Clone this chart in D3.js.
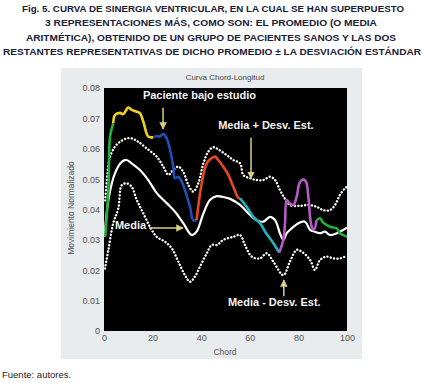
<html>
  <head>
    <meta charset='utf-8'>
    <script src='https://d3js.org/d3.v7.min.js'></script>
    <style>
      body { margin: 0; background: #fff; }
      text { font-family: 'Liberation Sans', Arial, sans-serif; }
    </style>
  </head>
  <body>
    <div id='fig'></div>
    <script>
        // ---- data ----
        const titleLines = [
          'Fig. 5. CURVA DE SINERGIA VENTRICULAR, EN LA CUAL SE HAN SUPERPUESTO',
          '3 REPRESENTACIONES MÁS, COMO SON: EL PROMEDIO (O MEDIA',
          'ARITMÉTICA), OBTENIDO DE UN GRUPO DE PACIENTES SANOS Y LAS DOS',
          'RESTANTES REPRESENTATIVAS DE DICHO  PROMEDIO ± LA DESVIACIÓN ESTÁNDAR'
        ];
        const xTicks = [0, 20, 40, 60, 80, 100];
        const yTicks = [0, 0.01, 0.02, 0.03, 0.04, 0.05, 0.06, 0.07, 0.08];

        // patient under study: [chord, value]
        const patient = [
          [0.5, 0.031], [1.8, 0.0464], [2.5, 0.064], [3.8, 0.0684], [4.5, 0.0711],
          [6.6, 0.0718], [7.9, 0.0714], [10, 0.0736], [11.4, 0.0728], [13.5, 0.0722],
          [14.8, 0.0717], [16.2, 0.0689], [18.2, 0.064], [20.3, 0.0638], [21.7, 0.0642],
          [23, 0.064], [24.4, 0.0649], [25.8, 0.0634], [27.2, 0.0596], [28.5, 0.0541],
          [29.2, 0.0503], [30.6, 0.0508], [32, 0.0492], [33.3, 0.0464], [35.4, 0.0409],
          [36.7, 0.0365], [38.1, 0.0365], [40.2, 0.0486], [42.3, 0.0552], [44.3, 0.0569],
          [45.7, 0.0574], [47, 0.0563], [49.1, 0.0541], [51.2, 0.0514], [53.2, 0.0475],
          [55.3, 0.0438], [56, 0.0437], [58.7, 0.0409], [61.4, 0.0376], [64.2, 0.0355],
          [66.3, 0.0327], [69.7, 0.0289], [72.1, 0.0258], [73.8, 0.030], [74.5, 0.0355],
          [75.2, 0.0431], [76.5, 0.042], [77.9, 0.0415], [79.3, 0.0442], [80.4, 0.0486],
          [81.8, 0.0499], [83.1, 0.0492], [84.1, 0.0442], [84.8, 0.0376], [85.5, 0.0343],
          [86.4, 0.0333], [87.5, 0.0365], [88.9, 0.0371], [90.2, 0.0357], [93, 0.0343],
          [95.8, 0.0338], [97.1, 0.0322], [99.2, 0.0313], [100, 0.031]
        ];
        // coloured pieces of the patient curve (chord ranges)
        const patientSegments = [
          { color: '#1fae3c', from: 0, to: 3.8 },
          { color: '#f2d21a', from: 3.8, to: 20.3 },
          { color: '#1f4fb4', from: 20.3, to: 38.1 },
          { color: '#e8461e', from: 38.1, to: 56 },
          { color: '#1fb4bc', from: 56, to: 72.1 },
          { color: '#b45ac3', from: 72.1, to: 87.5 },
          { color: '#1fae3c', from: 87.5, to: 100 }
        ];

        const mean = [
          [0.2, 0.031], [2, 0.044], [4.5, 0.0519], [7.3, 0.0557], [9.3, 0.0563],
          [11.4, 0.0552], [14.8, 0.053], [18.2, 0.0497], [21.7, 0.0454], [25.8, 0.0421],
          [29.2, 0.0393], [32.6, 0.0355], [36.1, 0.0316], [38.1, 0.0327], [40.9, 0.0387],
          [43.6, 0.0431], [46.4, 0.0444], [49.1, 0.0441], [51.9, 0.0435], [56, 0.0415],
          [60.1, 0.0382], [62.8, 0.0365], [65.6, 0.036], [68.3, 0.0376], [70.4, 0.0365],
          [72.4, 0.0322], [73.8, 0.030], [75.2, 0.0322], [77.2, 0.0338], [80, 0.0355],
          [82.7, 0.036], [84.8, 0.0333], [86.8, 0.0327], [88.9, 0.0322], [90.9, 0.0327],
          [93, 0.0316], [95.8, 0.0322], [98.5, 0.0333], [100, 0.034]
        ];

        const meanPlusSd = [
          [0.5, 0.043], [1.8, 0.0546], [2.5, 0.0574], [4.5, 0.0607], [6.6, 0.0623],
          [9.3, 0.0634], [11.4, 0.0634], [14.1, 0.0623], [17.6, 0.0601], [21.7, 0.0574],
          [24.4, 0.0541], [26.5, 0.0514], [28.5, 0.053], [30.6, 0.0541], [32.6, 0.0524],
          [34.7, 0.0481], [36.7, 0.0459], [38.8, 0.0486], [40.9, 0.0552], [42.9, 0.059],
          [45, 0.0605], [47, 0.0598], [50.5, 0.0579], [53.2, 0.0563], [56, 0.0552],
          [57.3, 0.0514], [60.1, 0.0503], [62.8, 0.0497], [65.6, 0.0497], [68.3, 0.0508],
          [70.4, 0.0497], [72.4, 0.0464], [74.5, 0.0435], [76.5, 0.0415], [80.7, 0.0412],
          [84.1, 0.0415], [87.5, 0.0409], [90.2, 0.0398], [93, 0.0398], [95.1, 0.0415],
          [97.1, 0.0448], [99.2, 0.047], [100, 0.0475]
        ];

        const meanMinusSd = [
          [0.4, 0.0206], [1.8, 0.0267], [3.8, 0.0355], [5.9, 0.0404], [7.3, 0.048],
          [9.3, 0.0486], [11.4, 0.0475], [13.5, 0.0431], [16.2, 0.0387], [18.9, 0.0343],
          [21.7, 0.031], [25.1, 0.0294], [27.9, 0.0272], [30.6, 0.0228], [33.3, 0.0184],
          [35.4, 0.0162], [37.4, 0.0179], [39.5, 0.0212], [42.3, 0.0256], [44.3, 0.0283],
          [46.4, 0.0283], [49.1, 0.030], [53.2, 0.031], [56, 0.0316], [58, 0.0283],
          [60.8, 0.0245], [64.2, 0.0239], [67, 0.0256], [69.7, 0.0228], [73.8, 0.0184],
          [76.5, 0.0228], [79.3, 0.0267], [81.4, 0.0261], [84.8, 0.0234], [86.8, 0.0201],
          [88.9, 0.0234], [91.6, 0.0245], [94.4, 0.0239], [97.1, 0.0239], [99.2, 0.0245],
          [100, 0.0248]
        ];

        // annotations: text + arrow, in data units
        const notes = [
          { text: 'Paciente bajo estudio', x: 16, y: 0.0764, arrow: [[24.3, 0.0735], [24.3, 0.0665]] },
          { text: 'Media + Desv. Est.', x: 47, y: 0.0664, arrow: [[60.5, 0.0636], [60.5, 0.0502]] },
          { text: 'Media', x: 4.5, y: 0.0337, arrow: [[18.5, 0.0339], [32.5, 0.0339]] },
          { text: 'Media - Desv. Est.', x: 51, y: 0.0082, arrow: [[74, 0.0115], [74, 0.0168]] }
        ];

        // ---- layout ----
        const W = 425, H = 383;
        const plot = { left: 104, right: 347, top: 88, bottom: 331 };

        const svg = d3.select('#fig').append('svg')
            .attr('width', W).attr('height', H);

        const title = svg.append('g');
        const titleSpans = [[22, 404], [45, 377], [26, 396], [3, 421]];
        titleLines.forEach((t, i) => {
          title.append('text')
            .attr('x', titleSpans[i][0])
            .attr('y', 11.5 + i * 14.5)
            .attr('textLength', titleSpans[i][1] - titleSpans[i][0])
            .attr('lengthAdjust', 'spacingAndGlyphs')
            .attr('font-size', 9.6)
            .attr('font-weight', 'bold')
            .attr('fill', '#1a2038')
            .text(t);
        });

        // gray panel
        svg.append('rect')
            .attr('x', 61).attr('y', 68)
            .attr('width', 301).attr('height', 291)
            .attr('fill', '#e8ecee');

        svg.append('text')
            .attr('x', 225).attr('y', 80)
            .attr('text-anchor', 'middle')
            .attr('font-size', 8)
            .attr('fill', '#444')
            .text('Curva Chord-Longitud');

        const x = d3.scaleLinear().domain([0, 100]).range([plot.left, plot.right]);
        const y = d3.scaleLinear().domain([0, 0.08]).range([plot.bottom, plot.top]);

        svg.append('rect')
            .attr('x', plot.left).attr('y', plot.top)
            .attr('width', plot.right - plot.left).attr('height', plot.bottom - plot.top)
            .attr('fill', '#000');

        svg.append('clipPath').attr('id', 'clip')
          .append('rect')
            .attr('x', plot.left).attr('y', plot.top)
            .attr('width', plot.right - plot.left).attr('height', plot.bottom - plot.top);

        // axes
        const yAxis = svg.append('g')
            .attr('transform', `translate(${plot.left},0)`)
            .call(d3.axisLeft(y).tickValues(yTicks).tickSize(0).tickPadding(4)
                    .tickFormat(d => d === 0 ? '0' : d3.format('.2f')(d)));
        const xAxis = svg.append('g')
            .attr('transform', `translate(0,${plot.bottom})`)
            .call(d3.axisBottom(x).tickValues(xTicks).tickSize(0).tickPadding(4));
        [xAxis, yAxis].forEach(a => {
          a.select('.domain').remove();
          a.selectAll('text')
            .attr('font-family', "'Liberation Sans', Arial, sans-serif")
            .attr('font-size', 9)
            .attr('fill', '#555');
        });

        svg.append('text')
            .attr('x', 225).attr('y', 355)
            .attr('text-anchor', 'middle')
            .attr('font-size', 8.5)
            .attr('fill', '#555')
            .text('Chord');

        svg.append('text')
            .attr('transform', 'translate(74,208) rotate(-90)')
            .attr('text-anchor', 'middle')
            .attr('font-size', 8.5)
            .attr('fill', '#555')
            .text('Movimiento Normalizado');

        // curves
        const line = d3.line()
            .x(d => x(d[0])).y(d => y(d[1]))
            .curve(d3.curveCatmullRom.alpha(0.5));

        const curves = svg.append('g').attr('clip-path', 'url(#clip)');

        [meanPlusSd, meanMinusSd].forEach(s => {
          curves.append('path')
            .attr('d', line(s))
            .attr('fill', 'none')
            .attr('stroke', '#fff')
            .attr('stroke-width', 2.4)
            .attr('stroke-linecap', 'round')
            .attr('stroke-dasharray', '0.1,3.3');
        });

        curves.append('path')
            .attr('d', line(mean))
            .attr('fill', 'none')
            .attr('stroke', '#fff')
            .attr('stroke-width', 2.2);

        patientSegments.forEach(seg => {
          const pts = patient.filter(d => d[0] >= seg.from && d[0] <= seg.to);
          curves.append('path')
            .attr('d', line(pts))
            .attr('fill', 'none')
            .attr('stroke', seg.color)
            .attr('stroke-width', 2.6)
            .attr('stroke-linejoin', 'round');
        });

        // annotations
        svg.append('defs').append('marker')
            .attr('id', 'head')
            .attr('viewBox', '0 0 10 10')
            .attr('refX', 9).attr('refY', 5)
            .attr('markerWidth', 5).attr('markerHeight', 5)
            .attr('orient', 'auto')
          .append('path')
            .attr('d', 'M0,0L10,5L0,10z')
            .attr('fill', '#d8cf82');

        notes.forEach(n => {
          svg.append('text')
            .attr('x', x(n.x)).attr('y', y(n.y))
            .attr('font-size', 11)
            .attr('font-weight', 'bold')
            .attr('fill', '#f4f4f4')
            .text(n.text);
          svg.append('line')
            .attr('x1', x(n.arrow[0][0])).attr('y1', y(n.arrow[0][1]))
            .attr('x2', x(n.arrow[1][0])).attr('y2', y(n.arrow[1][1]))
            .attr('stroke', '#d8cf82')
            .attr('stroke-width', 1.5)
            .attr('marker-end', 'url(#head)');
        });

        svg.append('text')
            .attr('x', 2).attr('y', 378)
            .attr('font-size', 9.5)
            .attr('fill', '#222')
            .text('Fuente: autores.');
    </script>
  </body>
</html>
